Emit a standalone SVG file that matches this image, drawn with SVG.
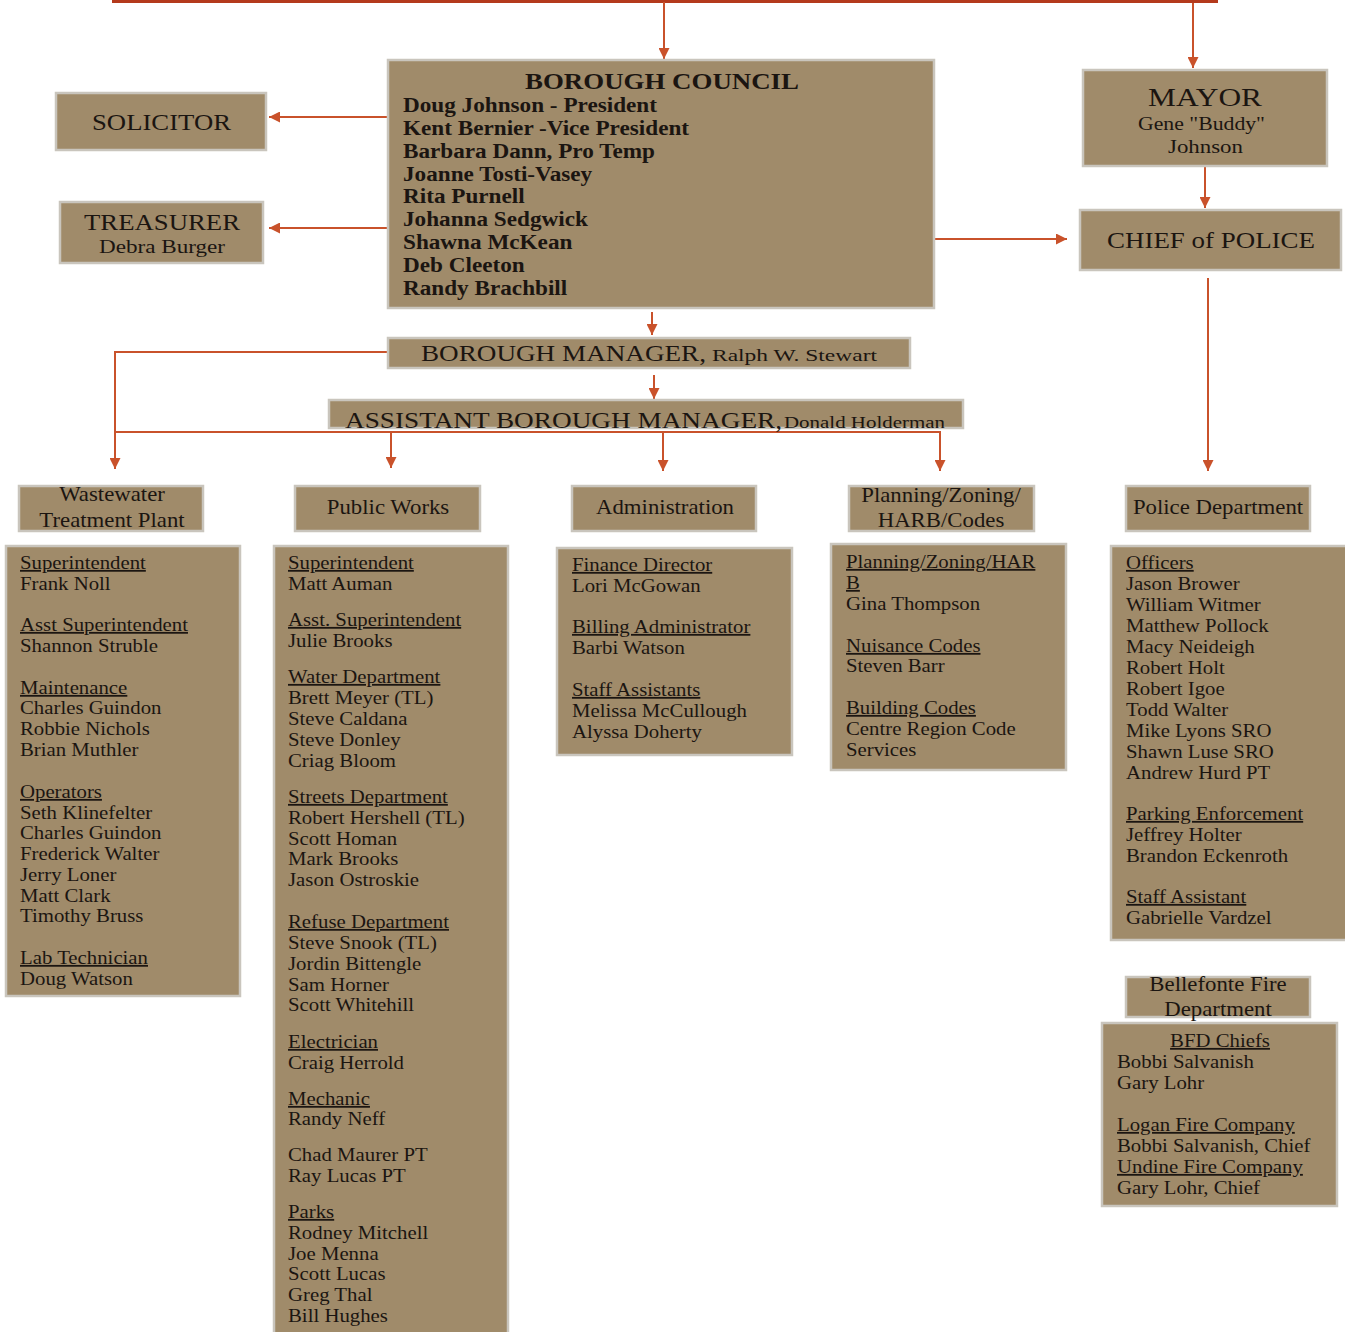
<svg xmlns="http://www.w3.org/2000/svg" width="1345" height="1332" viewBox="0 0 1345 1332">
<style>
.box{fill:#A08B6A;stroke:#C9C5BD;stroke-width:2.5}
.t{font-family:"Liberation Serif","Times New Roman",serif;fill:#1b1511}
.b{font-weight:bold}
.d{font-size:18px}
.h{font-size:20px}
.m{text-anchor:middle}
.u{text-decoration:underline}
.c{stroke:#C9522B;stroke-width:2;fill:none}
.top{stroke:#B43A1C;stroke-width:4;fill:none}
</style>
<defs>
<marker id="ah" viewBox="0 0 10 10" refX="10" refY="5" markerWidth="11" markerHeight="11" markerUnits="userSpaceOnUse" orient="auto">
<path d="M0,0 L10,5 L0,10 z" fill="#C9522B"/>
</marker>
</defs>
<rect width="1345" height="1332" fill="#ffffff"/>

<g id="connectors">
<path class="top" d="M112,1 H1218"/>
<path class="c" d="M664,2 V59" marker-end="url(#ah)"/>
<path class="c" d="M1193,3 V68" marker-end="url(#ah)"/>
<path class="c" d="M388,117 H269" marker-end="url(#ah)"/>
<path class="c" d="M388,228 H269" marker-end="url(#ah)"/>
<path class="c" d="M935,239 H1067" marker-end="url(#ah)"/>
<path class="c" d="M1205,167 V208" marker-end="url(#ah)"/>
<path class="c" d="M1208,278 V471" marker-end="url(#ah)"/>
<path class="c" d="M652,312 V335" marker-end="url(#ah)"/>
<path class="c" d="M654,375 V399" marker-end="url(#ah)"/>
<path class="c" d="M388,352 H115 V469" marker-end="url(#ah)"/>
<path class="c" d="M115,432 H940 V471" marker-end="url(#ah)"/>
<path class="c" d="M391,432 V468" marker-end="url(#ah)"/>
<path class="c" d="M663,432 V471" marker-end="url(#ah)"/>
</g>

<g id="borough-council">
<rect class="box" x="388" y="60" width="546" height="248"/>
<text class="t b m" x="662" y="89" font-size="23.5" textLength="274" lengthAdjust="spacingAndGlyphs">BOROUGH COUNCIL</text>
<g class="t b" font-size="20" transform="translate(403,0) scale(1.16,1)">
<text x="0" y="112">Doug Johnson - President</text>
<text x="0" y="135">Kent Bernier -Vice President</text>
<text x="0" y="158">Barbara Dann, Pro Temp</text>
<text x="0" y="181">Joanne Tosti-Vasey</text>
<text x="0" y="203">Rita Purnell</text>
<text x="0" y="226">Johanna Sedgwick</text>
<text x="0" y="249">Shawna McKean</text>
<text x="0" y="272">Deb Cleeton</text>
<text x="0" y="295">Randy Brachbill</text>
</g>
</g>

<g id="solicitor">
<rect class="box" x="56" y="93" width="210" height="57"/>
<text class="t" x="92" y="130" font-size="23" textLength="139" lengthAdjust="spacingAndGlyphs">SOLICITOR</text>
</g>

<g id="treasurer">
<rect class="box" x="60" y="202" width="203" height="61"/>
<text class="t" x="84" y="230" font-size="23" textLength="156" lengthAdjust="spacingAndGlyphs">TREASURER</text>
<text class="t" x="99" y="253" font-size="19.5" textLength="126" lengthAdjust="spacingAndGlyphs">Debra Burger</text>
</g>

<g id="mayor">
<rect class="box" x="1083" y="70" width="244" height="96"/>
<text class="t" x="1148" y="106" font-size="25" textLength="114" lengthAdjust="spacingAndGlyphs">MAYOR</text>
<text class="t" x="1138" y="130" font-size="18" textLength="127" lengthAdjust="spacingAndGlyphs">Gene "Buddy"</text>
<text class="t" x="1168" y="153" font-size="18" textLength="75" lengthAdjust="spacingAndGlyphs">Johnson</text>
</g>

<g id="chief-of-police">
<rect class="box" x="1080" y="210" width="261" height="60"/>
<text class="t" x="1107" y="248" font-size="24" textLength="208" lengthAdjust="spacingAndGlyphs">CHIEF of POLICE</text>
</g>

<g id="borough-manager">
<rect class="box" x="388" y="338" width="522" height="30"/>
<text class="t" x="421" y="361" font-size="23" textLength="285" lengthAdjust="spacingAndGlyphs">BOROUGH MANAGER,</text>
<text class="t" x="712" y="361" font-size="17" textLength="165" lengthAdjust="spacingAndGlyphs">Ralph W. Stewart</text>
</g>

<g id="assistant-borough-manager">
<rect class="box" x="329" y="400" width="634" height="28"/>
<text class="t" x="345" y="428" font-size="23" textLength="437" lengthAdjust="spacingAndGlyphs">ASSISTANT BOROUGH MANAGER,</text>
<text class="t" x="784" y="428" font-size="17" textLength="161" lengthAdjust="spacingAndGlyphs">Donald Holderman</text>
</g>

<g id="wastewater-header">
<rect class="box" x="19" y="486" width="184" height="45"/>
<g class="t h m" transform="translate(112,0) scale(1.14,1)">
<text x="0" y="501">Wastewater</text>
<text x="0" y="527">Treatment Plant</text>
</g>
</g>

<g id="public-works-header">
<rect class="box" x="295" y="486" width="185" height="45"/>
<g class="t h m" transform="translate(388,0) scale(1.14,1)"><text x="0" y="514">Public Works</text></g>
</g>

<g id="administration-header">
<rect class="box" x="572" y="486" width="184" height="45"/>
<g class="t h m" transform="translate(665,0) scale(1.14,1)"><text x="0" y="514">Administration</text></g>
</g>

<g id="planning-header">
<rect class="box" x="849" y="486" width="185" height="45"/>
<g class="t h m" transform="translate(941,0) scale(1.14,1)">
<text x="0" y="502">Planning/Zoning/</text>
<text x="0" y="527">HARB/Codes</text>
</g>
</g>

<g id="police-header">
<rect class="box" x="1126" y="486" width="184" height="45"/>
<g class="t h m" transform="translate(1218,0) scale(1.14,1)"><text x="0" y="514">Police Department</text></g>
</g>

<g id="wastewater-staff">
<rect class="box" x="6" y="546" width="234" height="450"/>
<g class="t d" transform="translate(20,0) scale(1.155,1)">
<text x="0" y="569" class="u">Superintendent</text>
<text x="0" y="590">Frank Noll</text>
<text x="0" y="631" class="u">Asst Superintendent</text>
<text x="0" y="652">Shannon Struble</text>
<text x="0" y="694" class="u">Maintenance</text>
<text x="0" y="714">Charles Guindon</text>
<text x="0" y="735">Robbie Nichols</text>
<text x="0" y="756">Brian Muthler</text>
<text x="0" y="798" class="u">Operators</text>
<text x="0" y="819">Seth Klinefelter</text>
<text x="0" y="839">Charles Guindon</text>
<text x="0" y="860">Frederick Walter</text>
<text x="0" y="881">Jerry Loner</text>
<text x="0" y="902">Matt Clark</text>
<text x="0" y="922">Timothy Bruss</text>
<text x="0" y="964" class="u">Lab Technician</text>
<text x="0" y="985">Doug Watson</text>
</g>
</g>

<g id="public-works-staff">
<rect class="box" x="274" y="546" width="234" height="800"/>
<g class="t d" transform="translate(288,0) scale(1.155,1)">
<text x="0" y="569" class="u">Superintendent</text>
<text x="0" y="590">Matt Auman</text>
<text x="0" y="626" class="u">Asst. Superintendent</text>
<text x="0" y="647">Julie Brooks</text>
<text x="0" y="683" class="u">Water Department</text>
<text x="0" y="704">Brett Meyer (TL)</text>
<text x="0" y="725">Steve Caldana</text>
<text x="0" y="746">Steve Donley</text>
<text x="0" y="767">Criag Bloom</text>
<text x="0" y="803" class="u">Streets Department</text>
<text x="0" y="824">Robert Hershell (TL)</text>
<text x="0" y="845">Scott Homan</text>
<text x="0" y="865">Mark Brooks</text>
<text x="0" y="886">Jason Ostroskie</text>
<text x="0" y="928" class="u">Refuse Department</text>
<text x="0" y="949">Steve Snook (TL)</text>
<text x="0" y="970">Jordin Bittengle</text>
<text x="0" y="991">Sam Horner</text>
<text x="0" y="1011">Scott Whitehill</text>
<text x="0" y="1048" class="u">Electrician</text>
<text x="0" y="1069">Craig Herrold</text>
<text x="0" y="1105" class="u">Mechanic</text>
<text x="0" y="1125">Randy Neff</text>
<text x="0" y="1161">Chad Maurer PT</text>
<text x="0" y="1182">Ray Lucas PT</text>
<text x="0" y="1218" class="u">Parks</text>
<text x="0" y="1239">Rodney Mitchell</text>
<text x="0" y="1260">Joe Menna</text>
<text x="0" y="1280">Scott Lucas</text>
<text x="0" y="1301">Greg Thal</text>
<text x="0" y="1322">Bill Hughes</text>
</g>
</g>

<g id="administration-staff">
<rect class="box" x="557" y="548" width="235" height="207"/>
<g class="t d" transform="translate(572,0) scale(1.155,1)">
<text x="0" y="571" class="u">Finance Director</text>
<text x="0" y="592">Lori McGowan</text>
<text x="0" y="633" class="u">Billing Administrator</text>
<text x="0" y="654">Barbi Watson</text>
<text x="0" y="696" class="u">Staff Assistants</text>
<text x="0" y="717">Melissa McCullough</text>
<text x="0" y="738">Alyssa Doherty</text>
</g>
</g>

<g id="planning-staff">
<rect class="box" x="831" y="544" width="235" height="226"/>
<g class="t d" transform="translate(846,0) scale(1.155,1)">
<text x="0" y="568" class="u">Planning/Zoning/HAR</text>
<text x="0" y="589" class="u">B</text>
<text x="0" y="610">Gina Thompson</text>
<text x="0" y="652" class="u">Nuisance Codes</text>
<text x="0" y="672">Steven Barr</text>
<text x="0" y="714" class="u">Building Codes</text>
<text x="0" y="735">Centre Region Code</text>
<text x="0" y="756">Services</text>
</g>
</g>

<g id="police-staff">
<rect class="box" x="1111" y="546" width="240" height="394"/>
<g class="t d" transform="translate(1126,0) scale(1.155,1)">
<text x="0" y="569" class="u">Officers</text>
<text x="0" y="590">Jason Brower</text>
<text x="0" y="611">William Witmer</text>
<text x="0" y="632">Matthew Pollock</text>
<text x="0" y="653">Macy Neideigh</text>
<text x="0" y="674">Robert Holt</text>
<text x="0" y="695">Robert Igoe</text>
<text x="0" y="716">Todd Walter</text>
<text x="0" y="737">Mike Lyons SRO</text>
<text x="0" y="758">Shawn Luse SRO</text>
<text x="0" y="779">Andrew Hurd PT</text>
<text x="0" y="820" class="u">Parking Enforcement</text>
<text x="0" y="841">Jeffrey Holter</text>
<text x="0" y="862">Brandon Eckenroth</text>
<text x="0" y="903" class="u">Staff Assistant</text>
<text x="0" y="924">Gabrielle Vardzel</text>
</g>
</g>

<g id="fire-header">
<rect class="box" x="1126" y="977" width="184" height="40"/>
<g class="t h m" transform="translate(1218,0) scale(1.14,1)">
<text x="0" y="991">Bellefonte Fire</text>
<text x="0" y="1016">Department</text>
</g>
</g>

<g id="fire-staff">
<rect class="box" x="1102" y="1023" width="235" height="183"/>
<g class="t d m" transform="translate(1220,0) scale(1.155,1)">
<text x="0" y="1047" class="u">BFD Chiefs</text>
</g>
<g class="t d" transform="translate(1117,0) scale(1.155,1)">
<text x="0" y="1068">Bobbi Salvanish</text>
<text x="0" y="1089">Gary Lohr</text>
<text x="0" y="1131" class="u">Logan Fire Company</text>
<text x="0" y="1152">Bobbi Salvanish, Chief</text>
<text x="0" y="1173" class="u">Undine Fire Company</text>
<text x="0" y="1194">Gary Lohr, Chief</text>
</g>
</g>
</svg>
